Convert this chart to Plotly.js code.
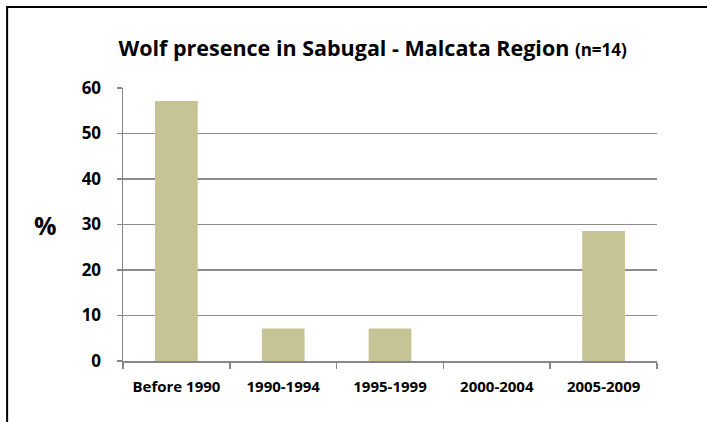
<!DOCTYPE html>
<html>
<head>
<meta charset="utf-8">
<script src="https://cdn.plot.ly/plotly-3.0.1.min.js"></script>
<style>html,body{margin:0;padding:0;background:#fff;}#chart{width:707px;height:422px;}</style>
</head>
<body>
<div id="chart"></div>
<script>
const categories = ["Before 1990", "1990-1994", "1995-1999", "2000-2004", "2005-2009"];
const percentValues = [57.14, 7.14, 7.14, 0, 28.57];
const yTickValues = [0, 10, 20, 30, 40, 50, 60];

const FONT = "'Open Sans', Lato, 'Liberation Sans', sans-serif";

const data = [{
  type: "bar",
  x: categories,
  y: percentValues,
  marker: {color: "#C6C394", line: {width: 0}},
  hoverinfo: "skip"
}];

const layout = {
  width: 707, height: 422,
  margin: {l: 123, r: 50, t: 88, b: 61},
  paper_bgcolor: "#fff", plot_bgcolor: "#fff",
  bargap: 0.6,
  showlegend: false,
  font: {family: FONT, color: "#000"},
  title: {
    text: "<b>Wolf presence in Sabugal - Malcata Region <span style='font-size:17px'>(n=14)</span></b>",
    font: {family: FONT, size: 21.5, color: "#000"},
    xref: "container", yref: "container",
    x: 0.527, xanchor: "center",
    y: 0.886, yanchor: "middle"
  },
  xaxis: {
    type: "category",
    showline: true, linecolor: "#878787", linewidth: 1.5,
    ticks: "outside", tickson: "boundaries", ticklen: 6, tickcolor: "#878787", tickwidth: 1.5,
    ticklabelstandoff: 11,
    tickfont: {family: FONT, size: 15, color: "#000", weight: "bold"},
    showgrid: false, zeroline: false, fixedrange: true
  },
  yaxis: {
    range: [0, 60],
    tickvals: yTickValues,
    ticktext: yTickValues.map(String),
    showline: true, linecolor: "#878787", linewidth: 1.5,
    ticks: "outside", ticklen: 5, tickcolor: "#878787", tickwidth: 1.5,
    ticklabelstandoff: 12,
    tickfont: {family: FONT, size: 17, color: "#000", weight: "bold"},
    showgrid: true, gridcolor: "#8C8C8C", gridwidth: 1.5,
    zeroline: false, fixedrange: true
  },
  annotations: [{
    text: "<b>%</b>",
    xref: "paper", yref: "paper",
    x: -0.146, y: 0.498, xanchor: "center", yanchor: "middle",
    showarrow: false,
    font: {family: FONT, size: 25, color: "#000"}
  }],
  shapes: [{
    type: "rect", xref: "paper", yref: "paper",
    x0: -0.217, x1: 1.2, y0: -0.3, y1: 1.297,
    line: {color: "#000", width: 2}, fillcolor: "rgba(0,0,0,0)", layer: "above"
  }]
};

Plotly.newPlot("chart", data, layout, {displayModeBar: false, staticPlot: true});
</script>
</body>
</html>
